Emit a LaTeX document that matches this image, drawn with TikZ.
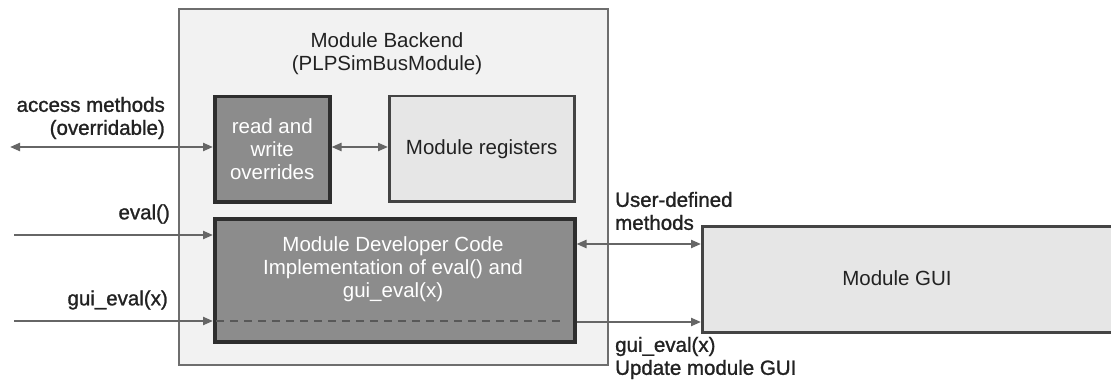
\documentclass[tikz,border=0pt]{standalone}
\usepackage{fontspec}
\setmainfont{Liberation Sans}
\newfontfamily\heavyfont[FakeBold=1.2]{Liberation Sans}
\usetikzlibrary{arrows.meta}
\definecolor{outerfill}{HTML}{F2F2F2}
\definecolor{outerline}{HTML}{6E6E6E}
\definecolor{darkfill}{HTML}{8C8C8C}
\definecolor{darkline}{HTML}{2E2E2E}
\definecolor{lightfill}{HTML}{E6E6E6}
\definecolor{lightline}{HTML}{444444}
\definecolor{wire}{HTML}{666666}
\definecolor{txt}{HTML}{222222}
\begin{document}
\begin{tikzpicture}[x=1pt,y=-1pt,
  font=\fontsize{20.5}{23}\selectfont,
  outerbox/.style={draw=outerline, fill=outerfill, line width=2pt, anchor=north west, inner sep=0pt},
  darkbox/.style={draw=darkline, fill=darkfill, line width=3.5pt, anchor=north west, inner sep=0pt, text=white, align=center},
  lightbox/.style={draw=lightline, fill=lightfill, line width=2.5pt, anchor=north west, inner sep=0pt, text=txt, align=center},
  lbl/.style={text=txt, inner sep=0pt},
  olbl/.style={text=txt, inner sep=0pt, font=\heavyfont\fontsize{20.5}{23}\selectfont},
  wireline/.style={draw=wire, line width=2.2pt},
  tip/.style={-{Triangle[length=10pt,width=8pt]}},
  tips/.style={{Triangle[length=10pt,width=8pt]}-{Triangle[length=10pt,width=8pt]}}
]
\useasboundingbox[fill=white] (0,0) rectangle (1111,385);

% backend container
\node[outerbox, minimum width=429pt, minimum height=356pt] (backend) at (178,8) {};
\node[lbl, align=center] (title) at (387,54) {Module Backend\\(PLPSimBusModule)};

% inner boxes
\node[darkbox, minimum width=115pt, minimum height=105pt] (rw) at (213,95) {};
\node[text=white, align=center, inner sep=0pt] (rwtext) at (rw.center) {read and\\write\\overrides};
\node[lightbox, minimum width=185pt, minimum height=105pt] (regs) at (388,95) {};
\node[lbl] (regstext) at (regs.center) {Module registers};
\node[darkbox, minimum width=360pt, minimum height=123pt] (dev) at (213,217) {};
\node[text=white, align=center, inner sep=0pt] (devtext) at (393,269) {Module Developer Code\\Implementation of eval() and\\gui\_eval(x)};

% GUI box (cut by the right edge)
\begin{scope}
\clip (0,0) rectangle (1111,385);
\node[lightbox, draw=lightline, minimum width=430pt, minimum height=106pt] (gui) at (701,225) {};
\end{scope}
\node[lbl] (guitext) at (897,278) {Module GUI};

% coordinates
\coordinate (accL) at (10,147);
\coordinate (evalL) at (14,235);
\coordinate (geL) at (14,321);
\coordinate (dashL) at (216,321);
\coordinate (dashR) at (560,321);

% dashed line inside dev box
\draw[draw=darkline!80, line width=1.8pt, dash pattern=on 8pt off 6pt] (dashL) -- (dashR);

% connectors
\draw[wireline, tips] (accL) -- (rw.west |- accL);
\draw[wireline, tips] (rw.east |- 0,147) -- (regs.west |- 0,147);
\draw[wireline, tip] (evalL) -- (dev.west |- evalL);
\draw[wireline, tip] (geL) -- (dev.west |- geL);
\draw[wireline, tips] (dev.east |- 0,244) -- (gui.west |- 0,244);
\draw[wireline, tip] (dev.east |- 0,322) -- (gui.west |- 0,322);

% labels
\node[olbl, align=right, anchor=east] (accl) at (165,118) {access methods\\(overridable)};
\node[olbl, anchor=east] (evall) at (170,214) {eval()};
\node[olbl, anchor=east] (gel) at (168,300) {gui\_eval(x)};
\node[olbl, align=left, anchor=west] (udl) at (615,211) {User-defined\\methods};
\node[olbl, align=left, anchor=west] (gol) at (615,358) {gui\_eval(x)\\Update module GUI};
\end{tikzpicture}
\end{document}
